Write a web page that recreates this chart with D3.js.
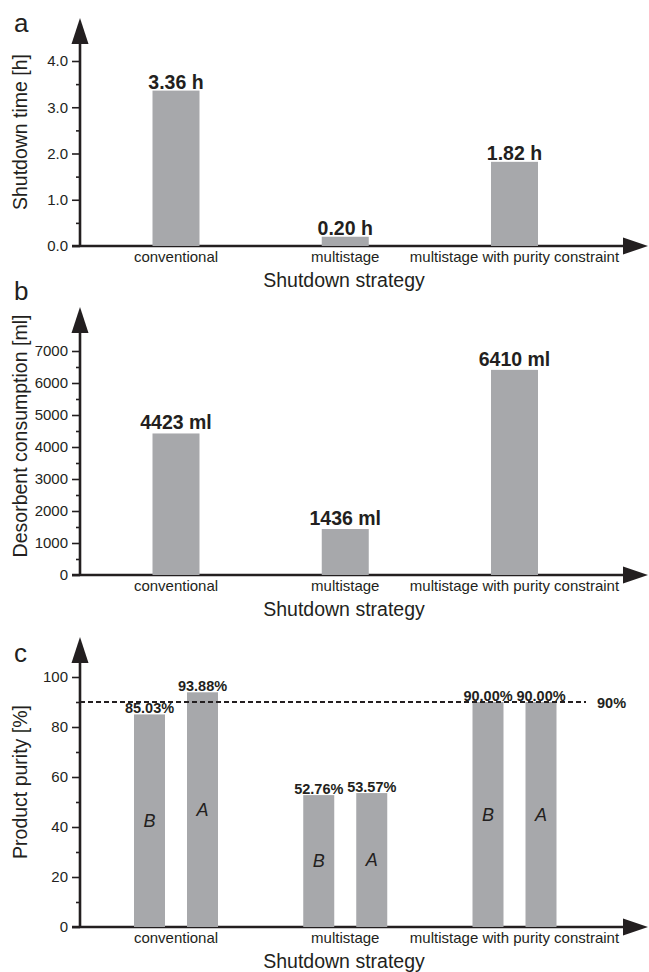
<!DOCTYPE html>
<html>
<head>
<meta charset="utf-8">
<script src="https://cdn.jsdelivr.net/npm/d3@7"></script>
<style>
  body { margin: 0; background: #fff; }
  text { font-family: "Liberation Sans", Arial, sans-serif; fill: #231f20; }
</style>
</head>
<body>
<div id="chart-area"></div>
<script>
// data
var categories = ["conventional", "multistage", "multistage with purity constraint"]
var shutdownTime = [3.36, 0.20, 1.82]
var shutdownLabels = ["3.36 h", "0.20 h", "1.82 h"]
var desorbent = [4423, 1436, 6410]
var desorbentLabels = ["4423 ml", "1436 ml", "6410 ml"]
var purityB = [85.03, 52.76, 90.00]
var purityA = [93.88, 53.57, 90.00]
var purityLimit = 90
var timeTicks = [0, 1, 2, 3, 4]
var desorbentTicks = [0, 1000, 2000, 3000, 4000, 5000, 6000, 7000]
var purityTicks = [0, 20, 40, 60, 80, 100]

var cw = 649
var ch = 972
var barColor = "#a7a8ab"
var ink = "#231f20"
var axisX = 80

var svg = d3.select("#chart-area").append("svg")
    .attr("width", cw)
    .attr("height", ch)

var x = d3.scalePoint()
    .domain(categories)
    .range([176, 514.5])

// draws axes, arrows, ticks and titles for one panel
function drawFrame(p) {
    var g = svg.append("g")
    var y = p.y

    // minor ticks
    g.append("g")
        .attr("transform", "translate(" + axisX + ",0)")
        .call(d3.axisLeft(y).tickValues(p.minor).tickSize(4).tickFormat(""))
        .call(a => a.select(".domain").remove())
        .selectAll("line").attr("stroke", ink).attr("stroke-width", 1.6)

    var ax = g.append("g")
        .attr("transform", "translate(" + axisX + ",0)")
        .call(d3.axisLeft(y).tickValues(p.ticks).tickSize(8).tickPadding(4).tickFormat(p.fmt))
    ax.select(".domain").remove()
    ax.selectAll("line").attr("stroke", ink).attr("stroke-width", 1.6)
    ax.selectAll("text")
        .attr("font-size", "15px")
        .attr("font-family", "Liberation Sans, Arial, sans-serif")
        .attr("fill", ink)

    var y0 = y(0)
    // y axis line + arrow
    g.append("line")
        .attr("x1", axisX).attr("x2", axisX)
        .attr("y1", y0).attr("y2", p.arrowTip + 20)
        .attr("stroke", ink).attr("stroke-width", 2.6)
    g.append("path")
        .attr("d", "M" + (axisX - 8.5) + "," + (p.arrowTip + 26) + "L" + axisX + "," + p.arrowTip + "L" + (axisX + 8.5) + "," + (p.arrowTip + 26) + "Z")
        .attr("fill", ink)

    // x axis line + arrow
    g.append("line")
        .attr("x1", axisX - 8).attr("x2", 630)
        .attr("y1", y0).attr("y2", y0)
        .attr("stroke", ink).attr("stroke-width", 2.6)
    g.append("path")
        .attr("d", "M623," + (y0 - 8.5) + "L648," + y0 + "L623," + (y0 + 8.5) + "Z")
        .attr("fill", ink)

    // category labels
    g.selectAll(".cat")
        .data(categories)
        .enter().append("text")
        .attr("class", "cat")
        .attr("x", d => x(d))
        .attr("y", y0 + 16)
        .attr("text-anchor", "middle")
        .attr("font-size", "15px")
        .text(d => d)

    g.append("text")
        .attr("x", 344)
        .attr("y", y0 + 41)
        .attr("text-anchor", "middle")
        .attr("font-size", "19.5px")
        .text("Shutdown strategy")

    g.append("text")
        .attr("transform", "translate(27," + p.titleY + ") rotate(-90)")
        .attr("text-anchor", "middle")
        .attr("font-size", "19.5px")
        .text(p.title)

    g.append("text")
        .attr("x", 14)
        .attr("y", p.letterY)
        .attr("font-size", "26px")
        .text(p.letter)

    return g
}

// panel a
var ya = d3.scaleLinear().domain([0, 4]).range([246, 61])
var ga = drawFrame({
    y: ya, ticks: timeTicks, minor: [0.5, 1.5, 2.5, 3.5],
    fmt: d3.format(".1f"), arrowTip: 18, title: "Shutdown time [h]",
    titleY: 132, letter: "a", letterY: 32
})
ga.selectAll(".bar")
    .data(shutdownTime)
    .enter().append("rect")
    .attr("x", (d, i) => x(categories[i]) - 23.5)
    .attr("width", 47)
    .attr("y", d => ya(d))
    .attr("height", d => ya(0) - ya(d))
    .attr("fill", barColor)
ga.selectAll(".val")
    .data(shutdownTime)
    .enter().append("text")
    .attr("x", (d, i) => x(categories[i]))
    .attr("y", d => ya(d) - 2)
    .attr("text-anchor", "middle")
    .attr("font-size", "19.5px")
    .attr("font-weight", "bold")
    .text((d, i) => shutdownLabels[i])

// panel b
var yb = d3.scaleLinear().domain([0, 7000]).range([575, 351])
var gb = drawFrame({
    y: yb, ticks: desorbentTicks, minor: [500, 1500, 2500, 3500, 4500, 5500, 6500],
    fmt: d => d, arrowTip: 307, title: "Desorbent consumption [ml]",
    titleY: 436, letter: "b", letterY: 300
})
gb.selectAll(".bar")
    .data(desorbent)
    .enter().append("rect")
    .attr("x", (d, i) => x(categories[i]) - 23.5)
    .attr("width", 47)
    .attr("y", d => yb(d))
    .attr("height", d => yb(0) - yb(d))
    .attr("fill", barColor)
gb.selectAll(".val")
    .data(desorbent)
    .enter().append("text")
    .attr("x", (d, i) => x(categories[i]))
    .attr("y", d => yb(d) - 4)
    .attr("text-anchor", "middle")
    .attr("font-size", "19.5px")
    .attr("font-weight", "bold")
    .text((d, i) => desorbentLabels[i])

// panel c
var yc = d3.scaleLinear().domain([0, 100]).range([927, 677])
var gc = drawFrame({
    y: yc, ticks: purityTicks, minor: [10, 30, 50, 70, 90],
    fmt: d => d, arrowTip: 637, title: "Product purity [%]",
    titleY: 782, letter: "c", letterY: 662
})

var sub = d3.scaleOrdinal().domain(["B", "A"]).range([-26.5, 26.5])
var purity = []
categories.forEach((c, i) => {
    purity.push({cat: c, key: "B", v: purityB[i]})
    purity.push({cat: c, key: "A", v: purityA[i]})
})

gc.selectAll(".bar")
    .data(purity)
    .enter().append("rect")
    .attr("x", d => x(d.cat) + sub(d.key) - 15.5)
    .attr("width", 31)
    .attr("y", d => yc(d.v))
    .attr("height", d => yc(0) - yc(d.v))
    .attr("fill", barColor)

gc.selectAll(".key")
    .data(purity)
    .enter().append("text")
    .attr("x", d => x(d.cat) + sub(d.key))
    .attr("y", d => yc(d.v / 2) + 6)
    .attr("text-anchor", "middle")
    .attr("font-size", "18px")
    .attr("font-style", "italic")
    .text(d => d.key)

gc.append("line")
    .attr("x1", axisX).attr("x2", 586)
    .attr("y1", yc(purityLimit)).attr("y2", yc(purityLimit))
    .attr("stroke", ink).attr("stroke-width", 1.8)
    .attr("stroke-dasharray", "5,3")

gc.selectAll(".val")
    .data(purity)
    .enter().append("text")
    .attr("x", d => x(d.cat) + sub(d.key))
    .attr("y", d => yc(d.v) - 1)
    .attr("text-anchor", "middle")
    .attr("font-size", "14.5px")
    .attr("font-weight", "bold")
    .text(d => d3.format(".2f")(d.v) + "%")

gc.append("text")
    .attr("x", 597)
    .attr("y", yc(purityLimit) + 6)
    .attr("font-size", "14.5px")
    .attr("font-weight", "bold")
    .text(purityLimit + "%")
</script>
</body>
</html>
